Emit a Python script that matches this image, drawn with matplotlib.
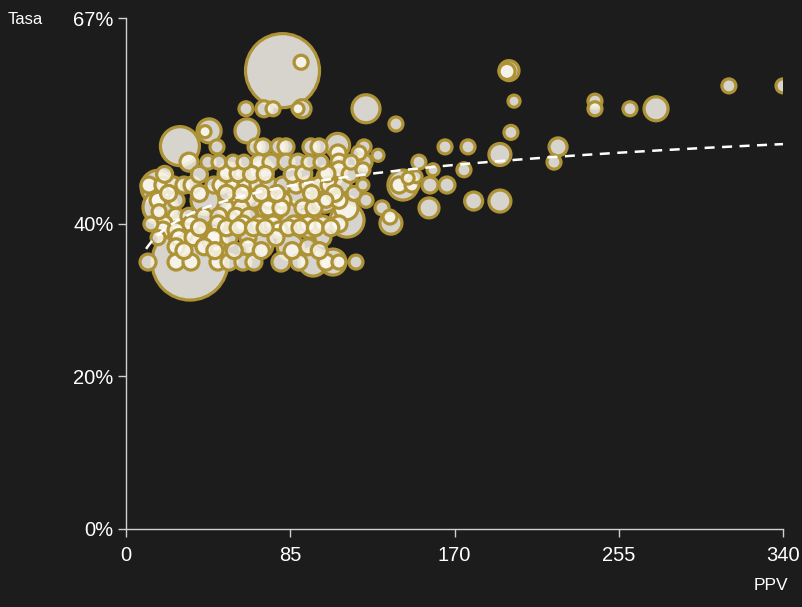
import numpy as np
import matplotlib
matplotlib.use("Agg")
import matplotlib.pyplot as plt

# ---- data: PPV (x), Tasa % (y), electorate weight (bubble size) ----
ppv = [
    81.0, 90.6, 198.2, 197.2, 312.0, 340.0, 200.8, 242.7,
    62.1, 71.4, 76.1, 89.0, 91.1, 124.2, 242.7, 260.8, 274.3,
    139.7, 43.0, 40.9, 62.6, 199.2,
    27.9, 47.1, 67.3, 70.9, 79.2, 82.8, 95.7, 99.9, 109.5, 123.2, 165.1, 177.0, 223.6,
    109.7, 130.4, 193.5, 120.6,
    32.6, 42.4, 48.1, 55.4, 61.1, 68.8, 75.0, 82.8, 89.0, 94.7, 100.9, 110.2, 116.4, 123.2, 151.6, 221.5,
    110.2, 122.6, 174.9, 158.9, 150.1, 146.0,
    16.6, 11.9, 19.1, 24.8, 30.0, 34.2, 45.5, 49.2, 55.9, 62.1, 68.3, 74.0, 81.2, 88.0, 94.2, 99.9,
    105.1, 112.3, 122.6, 143.3, 141.3, 148.0, 157.3, 166.1,
    17.6, 179.9, 193.5, 16.6, 25.9, 65.7, 74.0, 81.2, 103.5, 110.2, 124.2,
    51.7, 59.5, 73.5, 80.2, 91.6, 97.3, 113.9, 132.5, 156.8, 17.1,
    25.9, 32.6, 40.4, 48.1, 56.9, 63.7,
    12.9, 19.7, 33.6, 47.6, 60.5, 68.8, 76.1, 86.9, 94.2, 101.9, 110.2, 114.4, 137.1, 136.6,
    19.1, 25.9, 79.2,
    16.6, 27.4, 34.7, 45.5, 53.3, 63.1, 77.6, 101.9,
    25.9, 40.4, 63.1, 94.2,
    33.1, 11.4, 25.9, 33.6, 47.6, 53.3, 60.5, 66.2, 80.2, 89.5, 96.8, 103.5, 107.1, 110.2, 119.0,
    56.4, 82.3, 90.0, 46.1, 69.3, 103.0, 53.8, 40.9, 27.9,
    20.0, 38.0, 52.0, 58.0, 65.0, 72.0, 86.0, 92.0, 104.0, 116.0,
    22.0, 38.0, 52.0, 60.0, 70.0, 78.0, 96.0, 108.0, 118.0,
    38.0, 52.0, 58.0, 66.0, 72.0, 84.0, 90.0, 98.0, 106.0,
    30.0, 46.0, 56.0, 70.0, 86.0, 100.0,
    75.0, 95.0, 60.0, 85.0, 105.0, 70.0,
]
tasa = [
    60.1, 61.2, 60.1, 60.0, 58.1, 58.1, 56.1, 56.1,
    55.1, 55.1, 55.1, 55.1, 55.1, 55.1, 55.1, 55.1, 55.1,
    53.1, 52.2, 52.1, 52.2, 52.0,
    50.2, 50.1, 50.1, 50.1, 50.1, 50.1, 50.1, 50.1, 50.3, 50.1, 50.1, 50.1, 50.1,
    49.3, 49.0, 49.1, 49.3,
    48.1, 48.1, 48.1, 48.1, 48.1, 48.1, 48.1, 48.1, 48.1, 48.1, 48.1, 48.1, 48.1, 48.1, 48.1, 48.1,
    47.1, 47.1, 47.1, 47.1, 46.2, 46.0,
    44.8, 45.1, 45.1, 45.1, 45.1, 45.1, 45.1, 45.1, 45.1, 45.1, 45.1, 45.1, 45.1, 45.1, 45.1, 45.1,
    45.1, 45.1, 45.1, 45.1, 45.1, 45.1, 45.1, 45.1,
    42.2, 43.0, 43.0, 43.1, 43.1, 43.1, 43.1, 43.1, 43.1, 43.1, 43.1,
    42.1, 42.1, 42.1, 42.1, 42.1, 42.1, 42.1, 42.1, 42.1, 41.6,
    41.0, 41.0, 41.0, 41.0, 41.0, 41.0,
    40.0, 40.0, 40.0, 40.0, 40.0, 40.0, 40.0, 40.0, 40.0, 40.0, 40.0, 40.5, 40.1, 40.9,
    39.2, 39.2, 39.2,
    38.2, 38.2, 38.2, 38.2, 38.2, 38.2, 38.2, 38.2,
    37.0, 37.0, 37.0, 37.0,
    35.0, 35.0, 35.0, 35.0, 35.0, 35.0, 35.0, 35.0, 35.0, 35.0, 35.0, 35.0, 35.0, 35.0, 35.0,
    41.2, 41.2, 43.8, 37.9, 37.2, 43.1, 46.4, 43.1, 39.2,
    46.5, 46.5, 46.6, 46.6, 46.5, 46.5, 46.5, 46.6, 46.6, 46.5,
    44.0, 44.0, 44.0, 44.0, 44.0, 44.0, 44.0, 44.0, 44.0,
    39.5, 39.5, 39.5, 39.5, 39.5, 39.5, 39.5, 39.5, 39.5,
    36.5, 36.5, 36.5, 36.5, 36.5, 36.5,
    42.0, 40.0, 44.0, 37.0, 46.0, 47.0,
]
electores = [
    1369, 49, 100, 64, 49, 49, 36, 49,
    49, 64, 49, 36, 81, 196, 49, 49, 144,
    49, 144, 36, 144, 49,
    380, 49, 64, 64, 64, 64, 64, 64, 144, 49, 49, 49, 81,
    64, 36, 121, 49,
    81, 49, 49, 49, 49, 64, 64, 64, 64, 49, 49, 64, 49, 64, 49, 49,
    64, 49, 49, 36, 36, 36,
    289, 64, 64, 64, 64, 64, 64, 64, 64, 64, 64, 64, 64, 64, 64, 64,
    64, 64, 36, 225, 64, 49, 64, 64,
    289, 81, 121, 64, 64, 64, 64, 64, 49, 64, 49,
    64, 64, 64, 64, 64, 64, 144, 49, 100, 49,
    64, 64, 64, 64, 64, 64,
    49, 64, 64, 64, 64, 64, 64, 64, 64, 64, 64, 289, 121, 49,
    64, 64, 64,
    49, 64, 64, 64, 64, 64, 64, 64,
    64, 64, 64, 64,
    1444, 64, 64, 64, 64, 64, 64, 64, 81, 64, 196, 64, 169, 49, 49,
    196, 225, 144, 144, 169, 144, 144, 196, 196,
    64, 64, 64, 64, 64, 64, 64, 64, 64, 64,
    64, 64, 64, 64, 64, 64, 64, 64, 49,
    64, 64, 64, 64, 64, 64, 64, 64, 64,
    64, 64, 64, 64, 64, 64,
    196, 196, 169, 169, 144, 144,
]

# logarithmic trend line coefficients: tasa = a + b * ln(ppv)
tendencia_a = 27.5
tendencia_b = 3.94

x_ticks = [0, 85, 170, 255, 340]
y_ticks = [0, 20, 40, 67]

BG = "#1c1c1c"
GOLD = "#ad9336"
FG = "#ffffff"
AX = "#d0d0d0"

plt.rcParams["font.family"] = ["Liberation Sans", "DejaVu Sans"]

fig = plt.figure(figsize=(8.02, 6.07), dpi=100, facecolor=BG)
ax = fig.add_axes([126 / 802, 1 - 529 / 607, 657 / 802, 511 / 607])
ax.set_facecolor(BG)

x = np.array(ppv)
y = np.array(tasa)
w = np.array(electores, dtype=float)
order = np.argsort(-w, kind="stable")
# marker area in points^2 from weight (radius ~ sqrt(weight) px)
sizes = (2 * np.sqrt(w) * 0.72) ** 2
ax.scatter(x[order], y[order], s=sizes[order], facecolor=(0.99, 0.975, 0.94, 0.84),
           edgecolor=GOLD, linewidth=2.3, zorder=2)

xt = np.linspace(x.min() - 1, 340, 300)
ax.plot(xt, tendencia_a + tendencia_b * np.log(xt), color="#ffffff",
        linestyle=(0, (4, 3)), linewidth=1.8, zorder=3)

ax.set_xlim(0, 340)
ax.set_ylim(0, 67)
ax.set_xticks(x_ticks)
ax.set_xticklabels([str(v) for v in x_ticks])
ax.set_yticks(y_ticks)
ax.set_yticklabels([f"{v}%" for v in y_ticks])

for s in ["top", "right"]:
    ax.spines[s].set_visible(False)
for s in ["left", "bottom"]:
    ax.spines[s].set_color(AX)
    ax.spines[s].set_linewidth(1.0)
ax.tick_params(colors=AX, labelcolor=FG, labelsize=14.5, length=6, width=1, direction="out")
ax.tick_params(axis="x", pad=6)
ax.tick_params(axis="y", pad=3)

fig.text(8 / 802, 1 - 20 / 607, "Tasa", color=FG, fontsize=12, ha="left", va="center")
fig.text(788 / 802, 1 - 585 / 607, "PPV", color=FG, fontsize=12.5, ha="right", va="center")

fig.savefig("out.png", dpi=100, facecolor=BG)
